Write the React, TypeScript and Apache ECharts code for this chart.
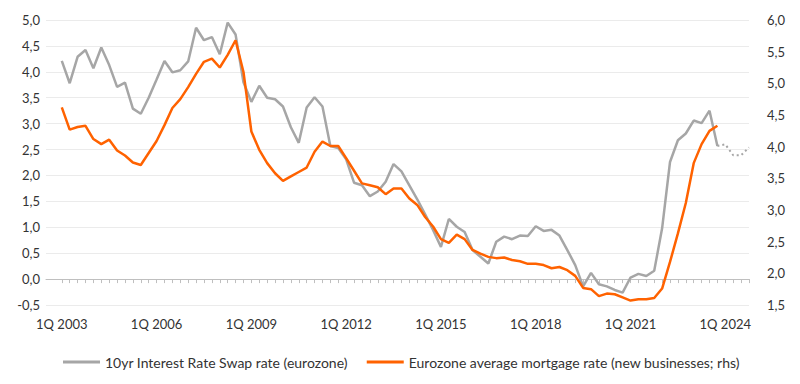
import React, { useEffect, useRef } from "react";
import * as echarts from "echarts";

// Quarterly categories: 3Q 2002 .. 4Q 2024 (first two are empty lead-in slots)
const firstYear = 2002;
const firstQuarter = 3;
const categoryCount = 90;
const categories: string[] = [];
for (let i = 0; i < categoryCount; i++) {
  const k = firstQuarter - 1 + i;
  categories.push(`${(k % 4) + 1}Q ${firstYear + Math.floor(k / 4)}`);
}
const leadIn = [null, null];

// 10yr Interest Rate Swap rate (eurozone), 1Q 2003 .. 4Q 2023 (lhs)
const swapRate = [
  4.21, 3.78, 4.29, 4.42, 4.07, 4.47, 4.13, 3.71, 3.79, 3.29,
  3.19, 3.5, 3.85, 4.21, 3.99, 4.03, 4.2, 4.85, 4.61, 4.67,
  4.34, 4.95, 4.72, 3.8, 3.42, 3.73, 3.5, 3.47, 3.33, 2.93,
  2.63, 3.31, 3.51, 3.33, 2.57, 2.53, 2.31, 1.86, 1.81, 1.6,
  1.69, 1.88, 2.22, 2.08, 1.81, 1.54, 1.25, 0.95, 0.62, 1.16,
  1.01, 0.91, 0.56, 0.43, 0.3, 0.72, 0.82, 0.77, 0.84, 0.83,
  1.02, 0.93, 0.95, 0.84, 0.56, 0.27, -0.14, 0.12, -0.1, -0.14,
  -0.21, -0.26, 0.03, 0.1, 0.06, 0.16, 0.98, 2.26, 2.68, 2.81,
  3.06, 3.01, 3.25, 2.57,
];
// Forecast 4Q 2023 .. 4Q 2024 (dotted)
const swapForecast = [2.57, 2.6, 2.39, 2.39, 2.54];
const forecastStartIndex = 85;

// Eurozone average mortgage rate (new businesses), 1Q 2003 .. 4Q 2023 (rhs)
const mortgageRate = [
  4.62, 4.27, 4.31, 4.33, 4.12, 4.04, 4.11, 3.94, 3.86, 3.75,
  3.71, 3.9, 4.09, 4.34, 4.61, 4.75, 4.94, 5.15, 5.34, 5.39,
  5.25, 5.45, 5.68, 5.18, 4.24, 3.95, 3.74, 3.58, 3.46, 3.53,
  3.6, 3.67, 3.92, 4.08, 4.01, 4.01, 3.82, 3.62, 3.42, 3.39,
  3.36, 3.25, 3.34, 3.34, 3.18, 3.08, 2.89, 2.74, 2.54, 2.48,
  2.61, 2.54, 2.37, 2.31, 2.26, 2.24, 2.25, 2.21, 2.19, 2.15,
  2.15, 2.13, 2.08, 2.1, 2.05, 1.96, 1.77, 1.75, 1.64, 1.68,
  1.67, 1.62, 1.57, 1.59, 1.59, 1.61, 1.76, 2.18, 2.63, 3.11,
  3.74, 4.04, 4.25, 4.33,
];

const swapName = "10yr Interest Rate Swap rate (eurozone)";
const mortgageName = "Eurozone average mortgage rate (new businesses; rhs)";

const GRAY = "#a6a6a6";
const ORANGE = "#ff6200";
const TEXT = "#333333";
const FONT = "Lato";

const fmt = (v: number) => v.toFixed(1).replace(".", ",");

export default function App() {
  const ref = useRef<HTMLDivElement>(null);
  useEffect(() => {
    if (!ref.current) return;
    const chart = echarts.init(ref.current, undefined, { renderer: "svg" });
    const forecastData: (number | null)[] = [];
    for (let i = 0; i < forecastStartIndex; i++) forecastData.push(null);
    swapForecast.forEach((v) => forecastData.push(v));

    chart.setOption({
      animation: false,
      textStyle: { fontFamily: FONT },
      grid: { left: 46, right: 51, top: 20, bottom: 79 },
      legend: {
        data: [
          { name: swapName, icon: "rect" },
          { name: mortgageName, icon: "rect" },
        ],
        left: 58,
        top: 350,
        itemWidth: 37,
        itemHeight: 3,
        itemGap: 19,
        textStyle: { fontFamily: FONT, fontSize: 14, color: TEXT },
      },
      xAxis: [
        {
          type: "category",
          data: categories,
          boundaryGap: false,
          position: "bottom",
          axisLine: { onZero: true, onZeroAxisIndex: 0, lineStyle: { color: "#bfbfbf", width: 1 } },
          axisTick: {
            show: true,
            length: 4,
            interval: (index: number) => index >= 2,
            lineStyle: { color: "#bfbfbf" },
          },
          axisLabel: { show: false },
          splitLine: { show: false },
        },
        {
          type: "category",
          data: categories,
          boundaryGap: false,
          position: "bottom",
          axisLine: { show: false, onZero: false },
          axisTick: { show: false },
          axisLabel: {
            interval: (index: number) => index >= 2 && (index - 2) % 12 === 0,
            fontFamily: FONT,
            fontSize: 13,
            color: TEXT,
            margin: 12,
          },
          splitLine: { show: false },
        },
      ],
      yAxis: [
        {
          type: "value",
          min: -0.5,
          max: 5,
          interval: 0.5,
          position: "left",
          axisLine: { show: false },
          axisTick: { show: false },
          axisLabel: { formatter: fmt, fontFamily: FONT, fontSize: 13, color: TEXT, margin: 6 },
          splitLine: { lineStyle: { color: "#ebebeb", width: 1 } },
        },
        {
          type: "value",
          min: 1.5,
          max: 6,
          interval: 0.5,
          position: "right",
          axisLine: { show: false },
          axisTick: { show: false },
          axisLabel: { formatter: fmt, fontFamily: FONT, fontSize: 13, color: TEXT, margin: 18 },
          splitLine: { show: false },
        },
      ],
      series: [
        {
          name: swapName,
          type: "line",
          xAxisIndex: 0,
          yAxisIndex: 0,
          data: [...leadIn, ...swapRate],
          symbol: "none",
          lineStyle: { color: GRAY, width: 2.5 },
          itemStyle: { color: GRAY },
          z: 2,
        },
        {
          name: "forecast",
          type: "line",
          xAxisIndex: 0,
          yAxisIndex: 0,
          data: forecastData,
          symbol: "none",
          lineStyle: { color: GRAY, width: 2, type: [2, 3] },
          itemStyle: { color: GRAY },
          z: 2,
        },
        {
          name: mortgageName,
          type: "line",
          xAxisIndex: 0,
          yAxisIndex: 1,
          data: [...leadIn, ...mortgageRate],
          symbol: "none",
          lineStyle: { color: ORANGE, width: 2.5 },
          itemStyle: { color: ORANGE },
          z: 3,
        },
      ],
    });
    return () => chart.dispose();
  }, []);
  return (
    <div
      ref={ref}
      style={{ position: "fixed", left: 0, top: 0, width: 800, height: 384, background: "#fff" }}
    />
  );
}
